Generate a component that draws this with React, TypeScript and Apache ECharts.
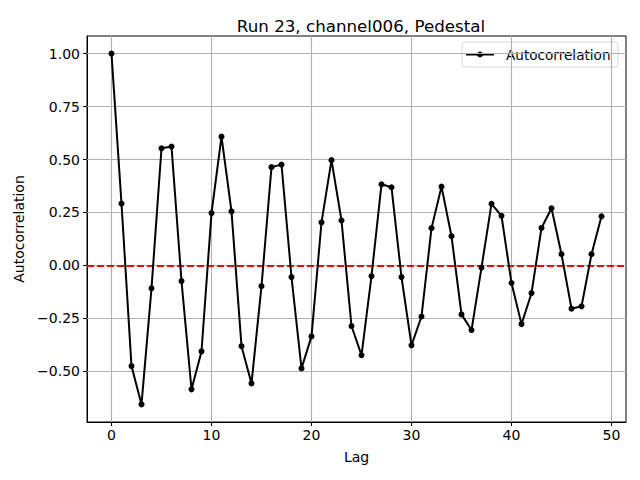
import React, { useEffect, useRef } from "react";
import * as echarts from "echarts";

const title = "Run 23, channel006, Pedestal";
const seriesName = "Autocorrelation";
const lags = Array.from({ length: 50 }, (_, i) => i);
const autocorr = [
  1.0, 0.292, -0.475, -0.656, -0.108, 0.553, 0.561, -0.074, -0.585, -0.406,
  0.247, 0.608, 0.255, -0.381, -0.557, -0.098, 0.464, 0.476, -0.055, -0.486,
  -0.335, 0.203, 0.497, 0.212, -0.286, -0.424, -0.05, 0.383, 0.369, -0.055,
  -0.377, -0.241, 0.176, 0.372, 0.138, -0.231, -0.305, -0.01, 0.291, 0.234,
  -0.083, -0.277, -0.131, 0.177, 0.27, 0.053, -0.204, -0.193, 0.053, 0.232,
];
const xTicks = [0, 10, 20, 30, 40, 50];
const yTicks = [-0.5, -0.25, 0, 0.25, 0.5, 0.75, 1.0];

const FONT = "DejaVu Sans";

export default function App() {
  const ref = useRef<HTMLDivElement>(null);
  useEffect(() => {
    if (!ref.current) return;
    const chart = echarts.init(ref.current, undefined, { renderer: "svg" });
    const gridLine = { color: "#b0b0b0", width: 1.1, type: "solid" as const };
    chart.setOption({
      animation: false,
      backgroundColor: "#ffffff",
      title: {
        text: title,
        left: 356,
        top: 12,
        textAlign: "center",
        textStyle: { fontFamily: FONT, fontSize: 16.7, fontWeight: "normal", color: "#000" },
      },
      graphic: [
        {
          type: "group",
          z: 100,
          children: [
            {
              type: "rect",
              shape: { x: 462, y: 42, width: 156, height: 25, r: 3 },
              style: { fill: "rgba(255,255,255,0.85)", stroke: "#d6d6d6", lineWidth: 1 },
            },
            {
              type: "line",
              shape: { x1: 466, y1: 54.5, x2: 494, y2: 54.5 },
              style: { stroke: "#000", lineWidth: 2 },
            },
            {
              type: "circle",
              shape: { cx: 480, cy: 54.5, r: 3 },
              style: { fill: "#000" },
            },
            {
              type: "text",
              x: 506,
              y: 54.5,
              style: {
                text: seriesName,
                fontFamily: FONT,
                fontSize: 13.6,
                fill: "#000",
                verticalAlign: "middle",
                align: "left",
              },
            },
          ],
        },
      ],
      grid: {
        left: 87,
        right: 14,
        top: 36,
        bottom: 58,
        show: true,
        borderColor: "#000",
        borderWidth: 1,
        backgroundColor: "transparent",
      },
      xAxis: {
        type: "value",
        min: -2.45,
        max: 51.45,
        name: "Lag",
        nameLocation: "middle",
        nameGap: 28,
        nameTextStyle: { fontFamily: FONT, fontSize: 14, color: "#000" },
        axisLine: { show: true, onZero: false, lineStyle: { color: "#000", width: 1 } },
        axisTick: { show: true, length: 4, customValues: xTicks, lineStyle: { color: "#000" } },
        axisLabel: {
          customValues: xTicks,
          fontFamily: FONT,
          fontSize: 14,
          color: "#000",
          margin: 6,
        },
        splitLine: { show: false },
      },
      yAxis: {
        type: "value",
        min: -0.739,
        max: 1.083,
        name: "Autocorrelation",
        nameLocation: "middle",
        nameGap: 60,
        nameTextStyle: { fontFamily: FONT, fontSize: 14, color: "#000" },
        axisLine: { show: true, onZero: false, lineStyle: { color: "#000", width: 1 } },
        axisTick: { show: true, length: 4, customValues: yTicks, lineStyle: { color: "#000" } },
        axisLabel: {
          customValues: yTicks,
          fontFamily: FONT,
          fontSize: 14,
          color: "#000",
          margin: 7,
          formatter: (v: number) => v.toFixed(2).replace("-", "\u2212"),
        },
        splitLine: { show: false },
      },
      series: [
        {
          name: "grid",
          type: "line",
          data: [],
          silent: true,
          z: 0,
          markLine: {
            silent: true,
            symbol: ["none", "none"],
            label: { show: false },
            lineStyle: gridLine,
            animation: false,
            data: [
              ...xTicks.map((v) => ({ xAxis: v })),
              ...yTicks.map((v) => ({ yAxis: v })),
            ],
          },
        },
        {
          name: seriesName,
          type: "line",
          data: lags.map((l, i) => [l, autocorr[i]]),
          z: 10,
          symbol: "circle",
          symbolSize: 6,
          showSymbol: true,
          itemStyle: { color: "#000", borderWidth: 0 },
          lineStyle: { color: "#000", width: 2 },
          markLine: {
            silent: true,
            symbol: ["none", "none"],
            label: { show: false },
            lineStyle: { color: "#ff0000", width: 2, type: [7, 3] },
            data: [{ yAxis: 0 }],
          },
        },
      ],
    });
    return () => chart.dispose();
  }, []);
  return <div ref={ref} style={{ width: 640, height: 480, position: "absolute", left: 0, top: 0 }} />;
}
